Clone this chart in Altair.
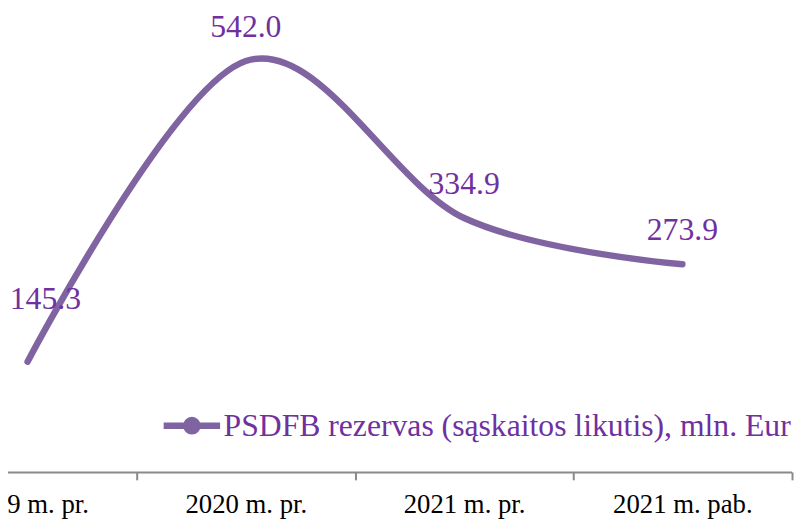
import altair as alt
import pandas as pd

categories = ["2019 m. pr.", "2020 m. pr.", "2021 m. pr.", "2021 m. pab."]
values = [145.3, 542.0, 334.9, 273.9]
series_name = "PSDFB rezervas (sąskaitos likutis), mln. Eur"

df = pd.DataFrame({
    "cat": categories,
    "value": values,
    "order": list(range(len(categories))),
    "series": [series_name] * len(categories),
})

LINE = "#8064A2"
TEXT = "#7030A0"
FONT = "Liberation Serif"

x_enc = alt.X(
    "cat:N",
    sort=categories,
    scale=alt.Scale(range=[-82.5, 799.5], paddingInner=0, paddingOuter=0),
    axis=alt.Axis(
        title=None, tickBand="extent", domainColor="#898989", domainWidth=2,
        tickColor="#898989", tickWidth=2, tickSize=8, labelFont=FONT,
        labelFontSize=27, labelColor="black", labelBaseline="alphabetic",
        labelPadding=33, labelAngle=0, grid=False, labelOverlap=False,
    ),
)
y_enc = alt.Y("value:Q", scale=alt.Scale(domain=[0, 619], nice=False, zero=True), axis=None)

base = alt.Chart(df)

symbol_path = ("M-1,0H1M0.2,0A0.2,0.2,0,1,1,-0.2,0A0.2,0.2,0,1,1,0.2,0")

line = base.mark_line(
    interpolate="cardinal", tension=0, strokeWidth=6.5, strokeCap="round"
).encode(
    x=x_enc,
    y=y_enc,
    color=alt.Color(
        "series:N",
        scale=alt.Scale(range=[LINE]),
        legend=alt.Legend(
            title=None, orient="none", legendX=161.75, legendY=395.3,
            symbolType=symbol_path, symbolSize=3249, symbolFillColor="#a892cc",
            symbolStrokeWidth=6.5,
            labelFont=FONT, labelFontSize=32, labelColor=TEXT, labelLimit=1000,
            labelOffset=0, padding=0,
        ),
    ),
)

labels = base.mark_text(
    font=FONT, fontSize=32, color=TEXT, baseline="alphabetic", align="center", dy=-24.5
).encode(
    x=x_enc, y=y_enc, text=alt.Text("value:Q", format=".1f")
).transform_filter(alt.datum.order > 0)

first_label = base.mark_text(
    font=FONT, fontSize=32, color=TEXT, baseline="alphabetic", align="center",
    dx=18, dy=-53.7
).encode(
    x=x_enc, y=y_enc, text=alt.Text("value:Q", format=".1f")
).transform_filter(alt.datum.order == 0)

chart = alt.layer(line, labels, first_label).properties(
    width=800, height=474,
    padding={"left": -8, "top": -8, "right": 2, "bottom": 50},
    autosize=alt.AutoSizeParams(type="none"),
    background="white",
).configure_view(stroke=None)

chart.save("out.html", embed_options={"renderer": "svg", "actions": False})
